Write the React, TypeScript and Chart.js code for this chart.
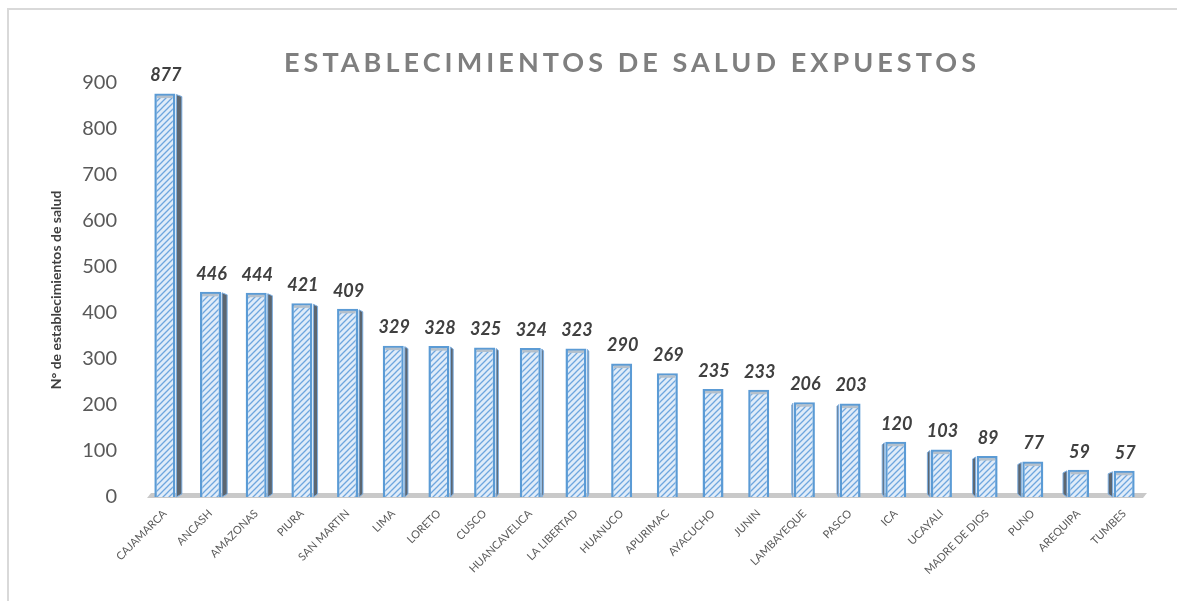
import React, { useEffect, useRef } from "react";
import { Chart, registerables } from "chart.js";

Chart.register(...registerables);

const categories: string[] = [
  "CAJAMARCA", "ANCASH", "AMAZONAS", "PIURA", "SAN MARTIN", "LIMA", "LORETO",
  "CUSCO", "HUANCAVELICA", "LA LIBERTAD", "HUANUCO", "APURIMAC", "AYACUCHO",
  "JUNIN", "LAMBAYEQUE", "PASCO", "ICA", "UCAYALI", "MADRE DE DIOS", "PUNO",
  "AREQUIPA", "TUMBES",
];
const values: number[] = [
  877, 446, 444, 421, 409, 329, 328, 325, 324, 323, 290, 269, 235, 233, 206,
  203, 120, 103, 89, 77, 59, 57,
];
const yTicks: number[] = [0, 100, 200, 300, 400, 500, 600, 700, 800, 900];
const titleText = "ESTABLECIMIENTOS DE SALUD EXPUESTOS";
const yAxisTitle = "N° de establecimientos de salud";

const FONT = "Lato, 'Open Sans', sans-serif";

function makePattern(): CanvasPattern | string {
  const c = document.createElement("canvas");
  c.width = 6;
  c.height = 6;
  const g = c.getContext("2d");
  if (!g) return "#dae8f6";
  g.fillStyle = "#e0ecf9";
  g.fillRect(0, 0, 6, 6);
  g.strokeStyle = "#6ea6de";
  g.lineWidth = 1.3;
  g.beginPath();
  g.moveTo(-1, 7);
  g.lineTo(7, -1);
  g.moveTo(-4, 4);
  g.lineTo(4, -4);
  g.moveTo(2, 10);
  g.lineTo(10, 2);
  g.stroke();
  const p = g.createPattern(c, "repeat");
  return p || "#dae8f6";
}

export default function App() {
  const ref = useRef<HTMLCanvasElement | null>(null);

  useEffect(() => {
    if (!ref.current) return;
    const pattern = makePattern();

    const decor = {
      id: "decor",
      beforeDatasetsDraw(chart: any) {
        const ctx = chart.ctx;
        const y = chart.scales.y;
        const area = chart.chartArea;
        const base = y.getPixelForValue(0);
        ctx.save();
        ctx.fillStyle = "#c9c9c9";
        ctx.beginPath();
        ctx.moveTo(area.left + 9, base - 4);
        ctx.lineTo(area.right, base - 4);
        ctx.lineTo(area.right - 4, base + 1);
        ctx.lineTo(area.left + 5, base + 1);
        ctx.closePath();
        ctx.fill();
        ctx.restore();
      },
      afterDatasetsDraw(chart: any) {
        const ctx = chart.ctx;
        const meta = chart.getDatasetMeta(0);
        const center = 700;
        ctx.save();
        meta.data.forEach((bar: any, i: number) => {
          const half = bar.width / 2;
          const left = bar.x - half;
          const right = bar.x + half;
          const top = bar.y;
          const bottom = bar.base;
          const d = Math.max(-4.5, Math.min(5.5, (center - bar.x) * 0.0105));
          if (Math.abs(d) >= 1) {
            const edge = d > 0 ? right + 1 : left - 1;
            ctx.fillStyle = "#5c6670";
            ctx.strokeStyle = "#7fb0e2";
            ctx.lineWidth = 1;
            ctx.beginPath();
            ctx.moveTo(edge, top + 1);
            ctx.lineTo(edge + d, top + 3);
            ctx.lineTo(edge + d, bottom - 3);
            ctx.lineTo(edge, bottom);
            ctx.closePath();
            ctx.fill();
            ctx.stroke();
          }
          ctx.fillStyle = "#b4c0cc";
          ctx.fillRect(left + 2.5, top + 2, bar.width - 5, 2.5);
          ctx.fillStyle = "#404040";
          ctx.font = `italic bold 18px ${FONT}`;
          ctx.textAlign = "center";
          ctx.textBaseline = "bottom";
          ctx.fillText(String(values[i]), bar.x + 1, top - 9);
        });
        ctx.restore();
      },
      afterDraw(chart: any) {
        const ctx = chart.ctx;
        ctx.save();
        ctx.fillStyle = "#7f7f7f";
        ctx.font = `bold 27px ${FONT}`;
        const target = 692;
        const n = titleText.length;
        (ctx as any).letterSpacing = "0px";
        const w0 = ctx.measureText(titleText).width;
        const sp = Math.max(0, (target - w0) / (n - 1));
        (ctx as any).letterSpacing = `${sp}px`;
        ctx.textAlign = "left";
        ctx.textBaseline = "middle";
        ctx.fillText(titleText, 630 - target / 2, 63);
        ctx.restore();
      },
    };

    const chart = new Chart(ref.current, {
      type: "bar",
      data: {
        labels: categories,
        datasets: [
          {
            data: values,
            backgroundColor: pattern as any,
            borderColor: "#5b9bd5",
            borderWidth: 2.5,
            categoryPercentage: 1,
            barPercentage: 0.46,
          },
        ],
      },
      options: {
        responsive: false,
        animation: false,
        layout: { padding: { left: 48, right: 30, top: 83, bottom: 0 } },
        plugins: {
          legend: { display: false },
          tooltip: { enabled: false },
        },
        scales: {
          x: {
            grid: { display: false, drawTicks: false },
            border: { display: false },
            ticks: {
              autoSkip: false,
              minRotation: 45,
              maxRotation: 45,
              padding: 10,
              color: "#595959",
              font: { family: FONT, size: 11 },
            },
            afterFit: (s: any) => {
              s.height = 104;
            },
          },
          y: {
            min: 0,
            max: 900,
            afterBuildTicks: (s: any) => {
              s.ticks = yTicks.map((v) => ({ value: v }));
            },
            grid: { display: false, drawTicks: false },
            border: { display: false },
            ticks: {
              padding: 25,
              color: "#595959",
              font: { family: FONT, size: 20 },
            },
            title: {
              display: true,
              text: yAxisTitle,
              color: "#404040",
              padding: 0,
              font: { family: FONT, size: 14, weight: "bold" },
            },
            afterFit: (s: any) => {
              s.width = 94;
            },
          },
        },
      },
      plugins: [decor],
    });
    return () => chart.destroy();
  }, []);

  return (
    <div style={{ position: "absolute", left: 0, top: 0, width: 1177, height: 601, background: "#fff" }}>
      <div
        style={{
          position: "absolute",
          left: 7,
          top: 8,
          width: 1200,
          height: 620,
          borderLeft: "2px solid #d9d9d9",
          borderTop: "2px solid #d9d9d9",
        }}
      />
      <canvas ref={ref} width={1177} height={601} style={{ position: "absolute", left: 0, top: 0, display: "block" }} />
    </div>
  );
}
